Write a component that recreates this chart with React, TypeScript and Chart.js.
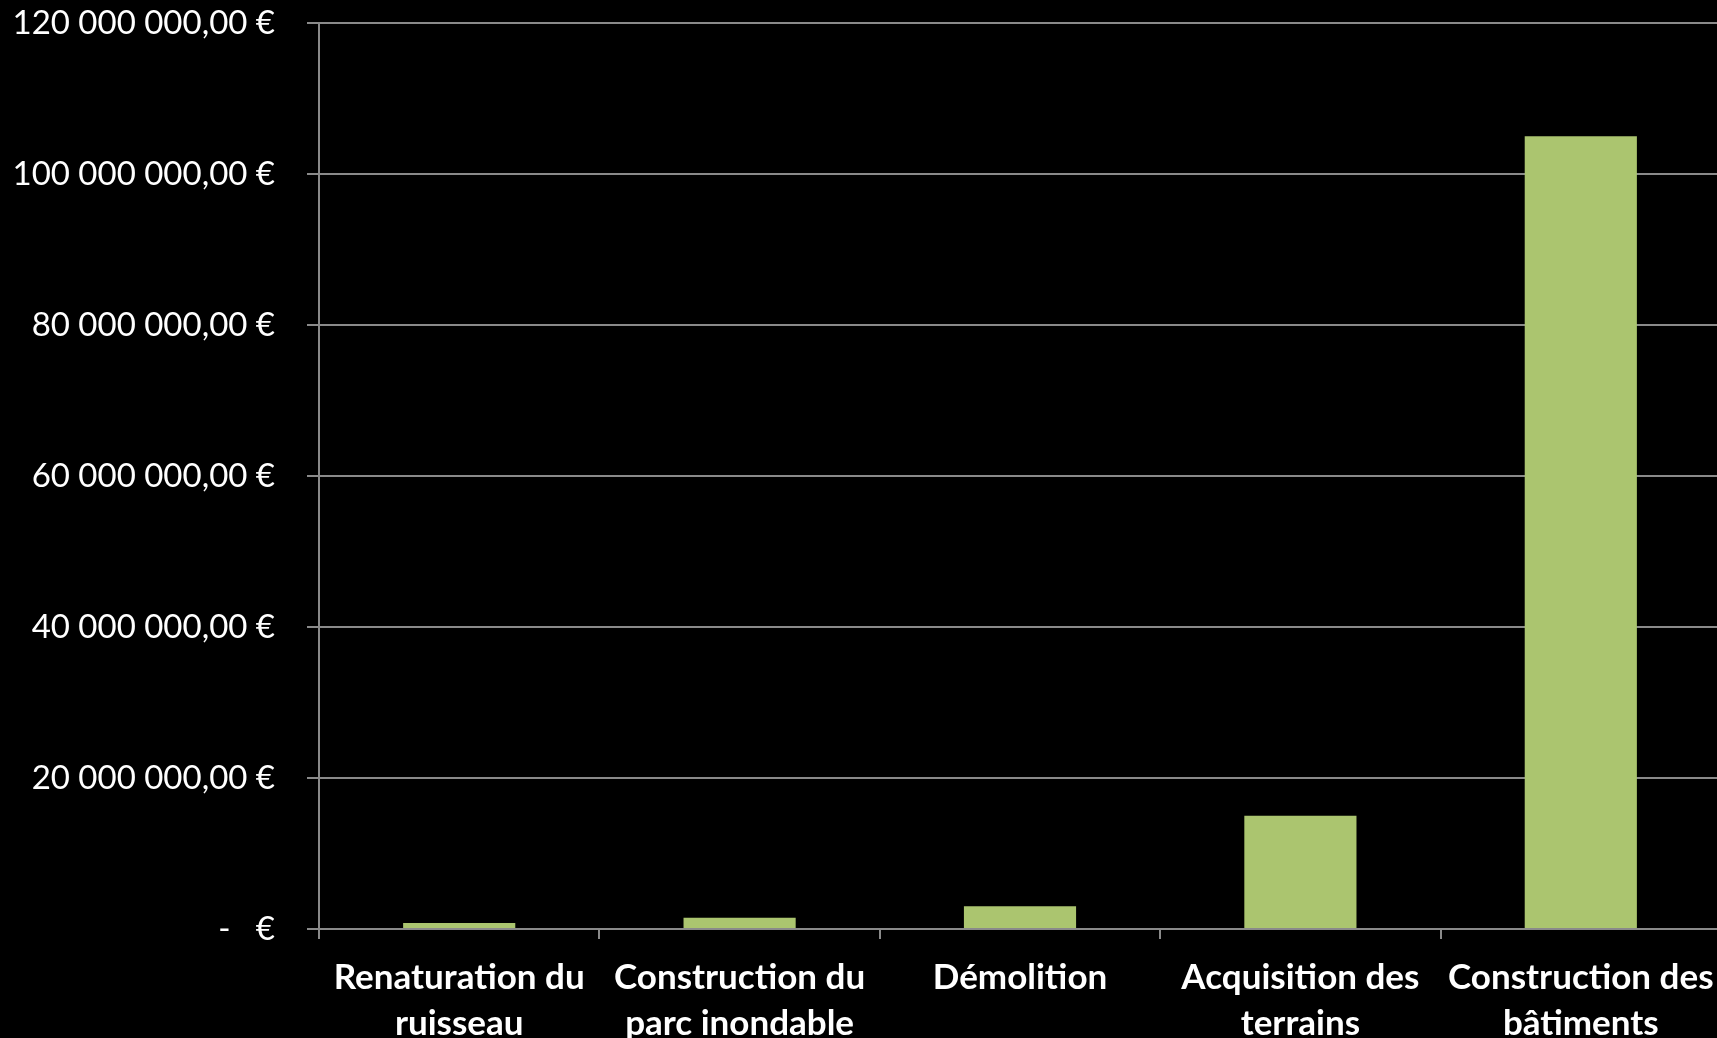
import React, { useEffect, useRef } from "react";
import { Chart, registerables } from "chart.js";

Chart.register(...registerables);

const categories: (string | string[])[] = [
  ["Renaturation du", "ruisseau"],
  ["Construction du", "parc inondable"],
  "Démolition",
  ["Acquisition des", "terrains"],
  ["Construction des", "bâtiments"],
];
const costs = [800000, 1500000, 3000000, 15000000, 105000000];
const yMax = 120000000;
const yStep = 20000000;

function formatEuro(v: number): string {
  if (v === 0) return "-   €";
  const s = Math.round(v).toString().replace(/\B(?=(\d{3})+(?!\d))/g, " ");
  return s + ",00 €";
}

export default function App() {
  const ref = useRef<HTMLCanvasElement>(null);
  useEffect(() => {
    document.body.style.margin = "0";
    document.body.style.background = "#000";
    document.body.style.overflow = "hidden";
    const ctx = ref.current!;
    const font = "Lato, 'Open Sans', sans-serif";
    const chart = new Chart(ctx, {
      type: "bar",
      data: {
        labels: categories,
        datasets: [
          {
            data: costs,
            backgroundColor: "#abc56f",
            borderWidth: 0,
            barPercentage: 0.4,
            categoryPercentage: 1,
          },
        ],
      },
      options: {
        animation: false,
        responsive: false,
        maintainAspectRatio: false,
        layout: { padding: 0 },
        plugins: { legend: { display: false }, tooltip: { enabled: false } },
        scales: {
          x: {
            grid: {
              display: true,
              drawOnChartArea: false,
              drawTicks: true,
              tickLength: 10,
              color: "#8a8a8a",
              lineWidth: 2,
              offset: true,
            },
            border: { color: "#8a8a8a", width: 2 },
            ticks: {
              color: "#ffffff",
              font: { family: font, size: 35, weight: "bold", lineHeight: 1.3 },
              padding: 16,
              maxRotation: 0,
              autoSkip: false,
            },
            afterFit: (s: any) => {
              s.height = 109;
              s.paddingLeft = 0;
              s.paddingRight = 0;
            },
          },
          y: {
            min: 0,
            max: yMax,
            grid: {
              color: "#8a8a8a",
              lineWidth: 2,
              tickLength: 12,
            },
            border: { color: "#8a8a8a", width: 2 },
            ticks: {
              stepSize: yStep,
              color: "#ffffff",
              font: { family: font, size: 33 },
              padding: 32,
              callback: (v: any) => formatEuro(Number(v)),
            },
            afterFit: (s: any) => {
              s.width = 319;
              s.paddingTop = 23;
              s.paddingBottom = 0;
            },
          },
        },
      },
    });
    return () => chart.destroy();
  }, []);
  return (
    <div style={{ width: 1717, height: 1038, background: "#000", overflow: "hidden" }}>
      <canvas ref={ref} width={1721} height={1038} style={{ display: "block" }} />
    </div>
  );
}
